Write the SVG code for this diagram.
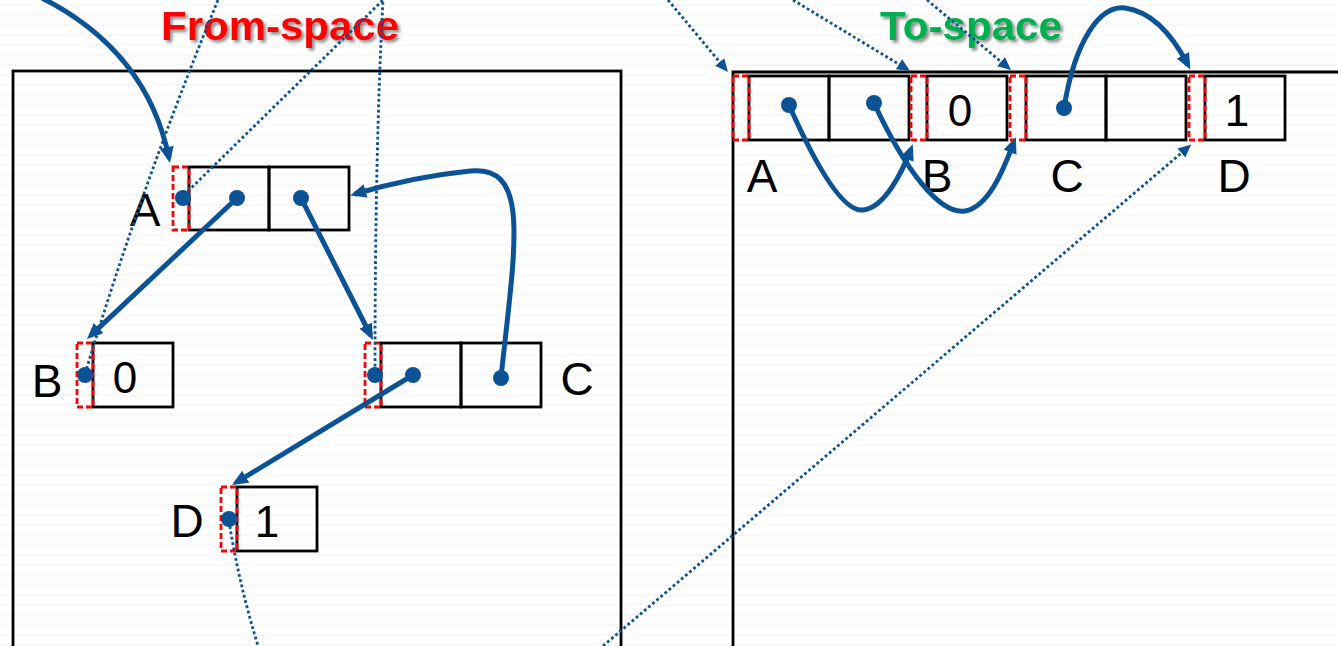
<svg xmlns="http://www.w3.org/2000/svg" width="1338" height="646" viewBox="0 0 1338 646">
<defs>
<style>
.bg{fill:url(#wave)}
.space{fill:none;stroke:#000;stroke-width:2.8}
.cell{fill:none;stroke:#000;stroke-width:2.8}
.fwd{fill:none;stroke:#FF0000;stroke-width:2.8;stroke-dasharray:6 3}
.dot{fill:#0B5394}
.lbl{font-family:"Liberation Sans",Arial,sans-serif;font-size:46px;fill:#000;text-anchor:middle}
.num{font-family:"Liberation Sans",Arial,sans-serif;font-size:44px;fill:#000;text-anchor:middle}
.title{font-family:"Liberation Sans",Arial,sans-serif;font-size:41px;font-weight:bold;text-anchor:middle}
.ptr{fill:none;stroke:#0B5394;stroke-width:5;marker-end:url(#ah)}
.fw{fill:none;stroke:#0B5394;stroke-width:2.8;stroke-dasharray:2.8 2.6;marker-end:url(#dh)}
</style>
<pattern id="wave" width="8" height="10" patternUnits="userSpaceOnUse">
<rect width="8" height="10" fill="#ffffff"/>
<path d="M0,5 Q2,2.5 4,5 T8,5" fill="none" stroke="#f1f1f1" stroke-width="1"/>
</pattern>
<marker id="ah" markerUnits="userSpaceOnUse" markerWidth="18" markerHeight="16" refX="11" refY="7" orient="auto">
<path d="M0,0 L16,7 L0,14 z" fill="#0B5394"/>
</marker>
<marker id="dh" markerUnits="userSpaceOnUse" markerWidth="15" markerHeight="14" refX="9" refY="6" orient="auto">
<path d="M0,0 L13,6 L0,12 z" fill="#0B5394"/>
</marker>
<filter id="sh" x="-10%" y="-30%" width="120%" height="160%">
<feDropShadow dx="2.5" dy="2.5" stdDeviation="1.5" flood-color="#000" flood-opacity="0.45"/>
</filter>
</defs>
<rect class="bg" x="0" y="0" width="1338" height="646"/>

<g id="titles">
<text class="title" x="280" y="40" fill="#FF0000" filter="url(#sh)" textLength="238" lengthAdjust="spacingAndGlyphs">From-space</text>
<text class="title" x="971" y="40" fill="#00B050" filter="url(#sh)" textLength="182" lengthAdjust="spacingAndGlyphs">To-space</text>
</g>

<g id="from-space">
<rect class="space" x="13" y="71" width="608" height="590"/>
</g>
<g id="to-space">
<path class="space" d="M733,660 L733,72 L1345,72"/>
</g>

<g id="from-A">
<rect class="cell" x="189" y="167" width="80" height="63"/>
<rect class="cell" x="269" y="167" width="80" height="63"/>
<rect class="fwd" x="173" y="167" width="16" height="63"/>
<text class="lbl" x="145" y="226">A</text>
<circle class="dot" cx="183" cy="198" r="8"/>
<circle class="dot" cx="237" cy="198" r="8"/>
<circle class="dot" cx="301" cy="198" r="8"/>
</g>
<g id="from-B">
<rect class="cell" x="93" y="343" width="80" height="64"/>
<rect class="fwd" x="77" y="343" width="16" height="64"/>
<text class="num" x="125" y="393">0</text>
<text class="lbl" x="47" y="397">B</text>
<circle class="dot" cx="85" cy="375" r="8"/>
</g>
<g id="from-C">
<rect class="cell" x="381" y="343" width="80" height="64"/>
<rect class="cell" x="461" y="343" width="80" height="64"/>
<rect class="fwd" x="365" y="343" width="16" height="64"/>
<text class="lbl" x="577" y="395">C</text>
<circle class="dot" cx="375" cy="375" r="8"/>
<circle class="dot" cx="413" cy="375" r="8"/>
<circle class="dot" cx="501" cy="378" r="8"/>
</g>
<g id="from-D">
<rect class="cell" x="237" y="487" width="80" height="64"/>
<rect class="fwd" x="221" y="487" width="16" height="64"/>
<text class="num" x="267" y="537">1</text>
<text class="lbl" x="187" y="537">D</text>
<circle class="dot" cx="229" cy="519" r="8"/>
</g>

<g id="to-A">
<rect class="cell" x="749" y="76" width="80" height="64"/>
<rect class="cell" x="829" y="76" width="80" height="64"/>
<rect class="fwd" x="733" y="76" width="16" height="64"/>
<text class="lbl" x="762" y="192">A</text>
<circle class="dot" cx="789" cy="105" r="8"/>
<circle class="dot" cx="874" cy="103" r="8"/>
</g>
<g id="to-B">
<rect class="cell" x="927" y="76" width="80" height="64"/>
<rect class="fwd" x="911" y="76" width="16" height="64"/>
<text class="num" x="960" y="126">0</text>
<text class="lbl" x="937" y="192">B</text>
</g>
<g id="to-C">
<rect class="cell" x="1026" y="76" width="80" height="64"/>
<rect class="cell" x="1106" y="76" width="80" height="64"/>
<rect class="fwd" x="1010" y="76" width="16" height="64"/>
<text class="lbl" x="1067" y="192">C</text>
<circle class="dot" cx="1064" cy="108" r="8"/>
</g>
<g id="to-D">
<rect class="cell" x="1205" y="76" width="80" height="64"/>
<rect class="fwd" x="1189" y="76" width="16" height="64"/>
<text class="num" x="1237" y="126">1</text>
<text class="lbl" x="1234" y="192">D</text>
</g>

<g id="connectors">
<path class="ptr" d="M42,-2 C115,35 155,90 169,158"/>
<path class="ptr" d="M237,198 L90.6,335.6"/>
<path class="ptr" d="M301,198 L370.7,335.5"/>
<path class="ptr" d="M413,375 L236.3,482.4"/>
<path class="ptr" d="M501,377 C516,240 530,165 470,171 C430,175 392,183 355,194"/>
<path class="ptr" d="M789,105 C820,175 845,212 863,210 C885,208 903,170 911,149"/>
<path class="ptr" d="M874,103 C905,170 940,215 965,211 C990,207 1005,165 1014,142"/>
<path class="ptr" d="M1064,108 C1075,40 1100,5 1125,8 C1155,12 1175,40 1188,65"/>
<path class="fw" d="M85,374 Q140,190 218,0 M793,0 L906.6,68.9"/>
<path class="fw" d="M184,195 L383,0 M668,0 L725.4,68.9"/>
<path class="fw" d="M375,372 Q375,150 383,0 M927,0 L1007.9,67.4"/>
<path class="fw" d="M229,521 Q238,580 258,646 M603,646 L1188.2,147.2"/>
</g>
</svg>
